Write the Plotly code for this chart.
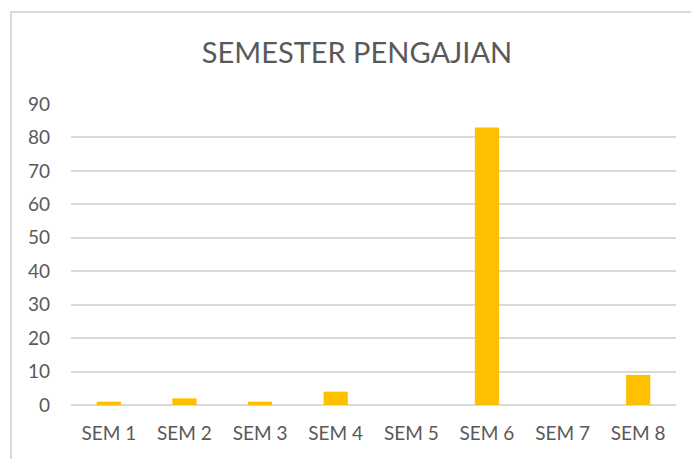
import plotly.graph_objects as go

categories = ["SEM 1", "SEM 2", "SEM 3", "SEM 4", "SEM 5", "SEM 6", "SEM 7", "SEM 8"]
values = [1, 2, 1, 4, 0, 83, 0, 9]
y_ticks = [0, 10, 20, 30, 40, 50, 60, 70, 80, 90]
title_text = "SEMESTER PENGAJIAN"

W, H = 691, 459
L, R, T, B = 71, 15, 104, 54
pw = W - L - R
ph = H - T - B

fig = go.Figure(go.Bar(x=categories, y=values, marker=dict(color="#FFC000", line=dict(width=0)),
                       hoverinfo="x+y"))

fig.update_layout(
    width=W, height=H,
    margin=dict(l=L, r=R, t=T, b=B),
    paper_bgcolor="white", plot_bgcolor="white",
    bargap=0.68,
    showlegend=False,
    font=dict(family="Lato, Open Sans, sans-serif", color="#595959"),
    title=dict(text=title_text, x=357 / W, xanchor="center", y=1 - 53 / H, yanchor="middle",
               font=dict(size=29, color="#595959", family="Lato, Open Sans, sans-serif")),
    xaxis=dict(showgrid=False, showline=False, zeroline=False, ticks="",
               tickfont=dict(size=19, color="#595959"), ticklabelstandoff=15),
    yaxis=dict(range=[0, 90], tickvals=y_ticks, showgrid=True, gridcolor="#d9d9d9", gridwidth=1.5,
               zeroline=True, zerolinecolor="#d9d9d9", zerolinewidth=1.5, showline=False, ticks="",
               tickfont=dict(size=19, color="#595959"), ticklabelstandoff=20),
    shapes=[dict(type="rect", xref="paper", yref="paper",
                 x0=(11 - L) / pw, x1=(W + 20 - L) / pw,
                 y0=-(H + 20 - T - ph) / ph, y1=(H - 12 - B) / ph,
                 line=dict(color="#d9d9d9", width=2), fillcolor="rgba(0,0,0,0)", layer="below")],
)

fig.write_html("out.html", config={"displayModeBar": False},
               post_script="document.body.style.margin='0';document.body.style.overflow='hidden';")
